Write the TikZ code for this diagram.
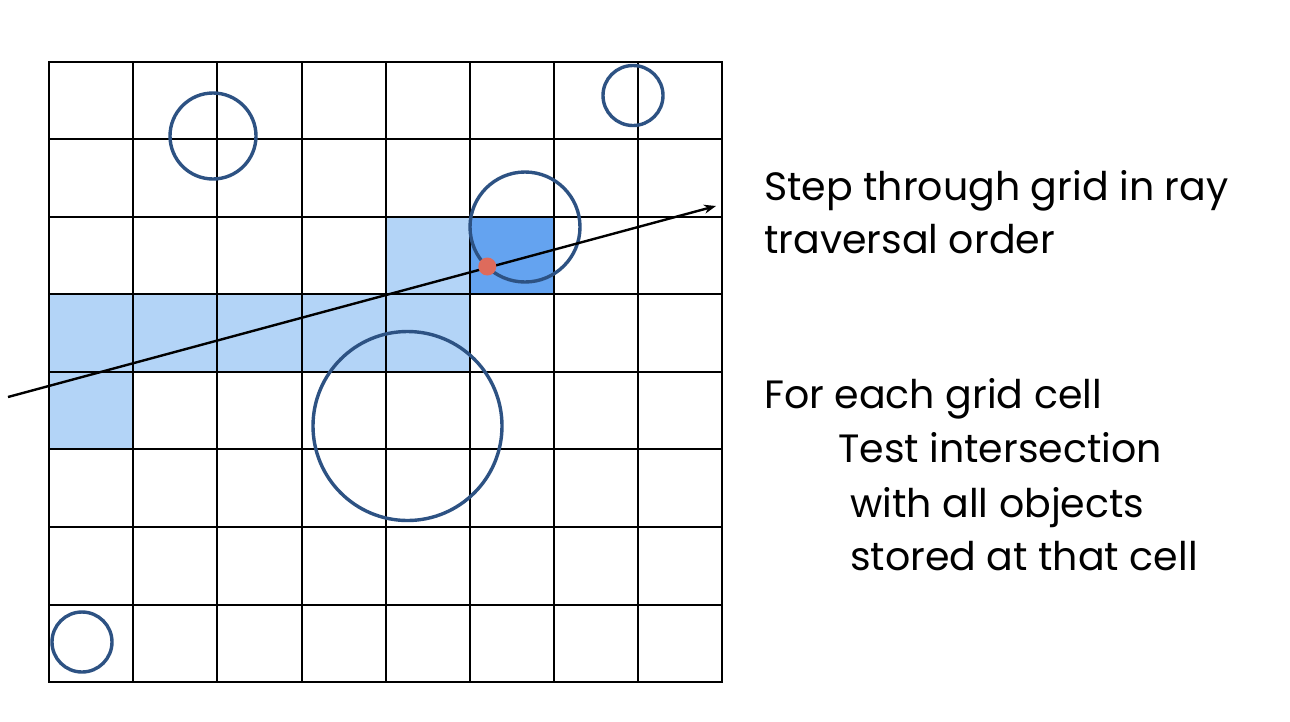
\documentclass[tikz,border=0pt]{standalone}
\usepackage{fontspec}
\setmainfont{Poppins}
\usetikzlibrary{arrows.meta}
\definecolor{lightcell}{HTML}{B3D4F7}
\definecolor{darkcell}{HTML}{64A3F0}
\definecolor{ringblue}{HTML}{2D5283}
\definecolor{hitred}{HTML}{DE6B5C}
\tikzset{
  gridline/.style={line width=2pt, black},
  ring/.style={circle, draw=ringblue, line width=3.4pt, inner sep=0pt},
  label/.style={anchor=base west, inner sep=0pt, font=\fontsize{39.5}{44}\selectfont},
  ray/.style={line width=2.4pt, -{Stealth[length=12pt,width=9pt]}},
}
\begin{document}
\begin{tikzpicture}[x=1pt,y=-1pt]
\useasboundingbox (0,0) rectangle (1290,721);
\fill[white] (0,0) rectangle (1290,721);
% cells
\fill[lightcell] (386,217) rectangle (470,294);
\fill[darkcell] (470,217) rectangle (554,294);
\fill[lightcell] (49,294) rectangle (470,372);
\fill[lightcell] (49,372) rectangle (133,449);
% grid
\foreach \x in {49,133,217,302,386,470,554,638,722}
  \draw[gridline] (\x,61) -- (\x,683);
\foreach \y in {62,139,217,294,372,449,527,605,682}
  \draw[gridline] (48,\y) -- (723,\y);
% circles
\node[ring, minimum size=86pt] (c1) at (213,136) {};
\node[ring, minimum size=60pt] (c2) at (633,95.5) {};
\node[ring, minimum size=110pt] (c3) at (525,227) {};
\node[ring, minimum size=189pt] (c4) at (407.5,426) {};
\node[ring, minimum size=60pt] (c5) at (82,642) {};
% ray
\coordinate (rs) at (8,397);
\coordinate (re) at (716,206);
\draw[ray] (rs) -- (re);
\node[circle, fill=hitred, minimum size=18pt, inner sep=0pt] (hit) at (487.3,266.5) {};
% text
\node[label] (t1) at (764,200) {Step through grid in ray};
\node[label] (t2) at (764,253) {traversal order};
\node[label] (t3) at (764,408) {For each grid cell};
\node[label] (t4) at (838,462) {Test intersection};
\node[label] (t5) at (850,517) {with all objects};
\node[label] (t6) at (850,570) {stored at that cell};
\end{tikzpicture}
\end{document}
